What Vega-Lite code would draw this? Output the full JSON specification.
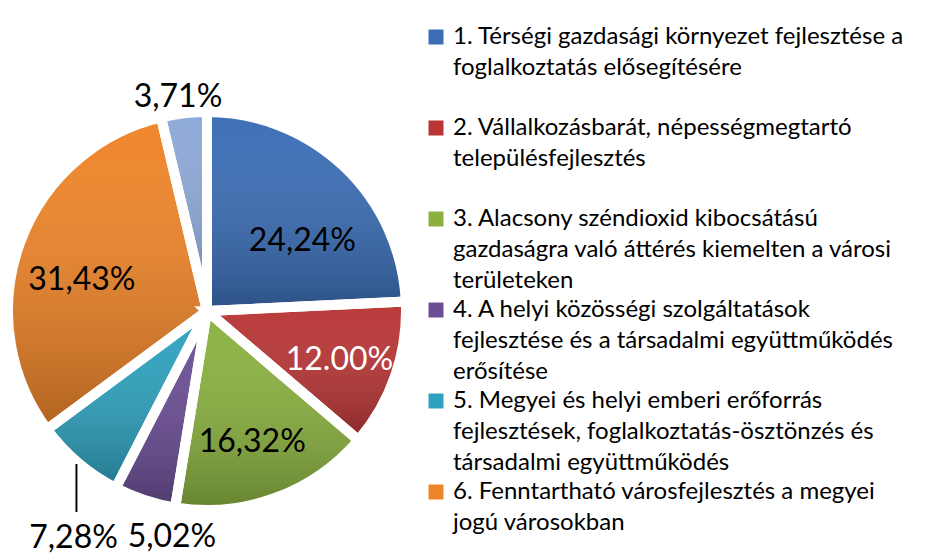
{
  "$schema": "https://vega.github.io/schema/vega-lite/v6.json",
  "width": 414,
  "height": 498,
  "autosize": {"type": "none"},
  "padding": {"left": 0, "top": 62, "right": 522, "bottom": 0},
  "background": "white",
  "config": {"view": {"stroke": null}, "font": "Lato"},
  "data": {
    "values": [
      {"idx": 1, "cat": "1. Térségi gazdasági környezet fejlesztése a\nfoglalkoztatás elősegítésére", "value": 24.24, "lbl": "24,24%"},
      {"idx": 2, "cat": "2. Vállalkozásbarát, népességmegtartó\ntelepülésfejlesztés", "value": 12.00, "lbl": "12.00%"},
      {"idx": 3, "cat": "3. Alacsony széndioxid kibocsátású\ngazdaságra való áttérés kiemelten a városi\nterületeken", "value": 16.32, "lbl": "16,32%"},
      {"idx": 4, "cat": "4. A helyi közösségi szolgáltatások\nfejlesztése és a társadalmi együttműködés\nerősítése", "value": 5.02, "lbl": "5,02%"},
      {"idx": 5, "cat": "5. Megyei és helyi emberi erőforrás\nfejlesztések, foglalkoztatás-ösztönzés  és\ntársadalmi együttműködés", "value": 7.28, "lbl": "7,28%"},
      {"idx": 6, "cat": "6. Fenntartható  városfejlesztés a megyei\njogú városokban", "value": 31.43, "lbl": "31,43%"},
      {"idx": 7, "cat": "7", "value": 3.71, "lbl": "3,71%"}
    ]
  },
  "encoding": {
    "theta": {"field": "value", "type": "quantitative", "stack": true},
    "order": {"field": "idx", "type": "quantitative"},
    "detail": {"field": "idx", "type": "nominal"}
  },
  "layer": [
    {
      "mark": {"type": "arc", "outerRadius": 199},
      "encoding": {
        "color": {
          "field": "cat",
          "type": "nominal",
          "scale": {
            "domain": [
              "1. Térségi gazdasági környezet fejlesztése a\nfoglalkoztatás elősegítésére",
              "2. Vállalkozásbarát, népességmegtartó\ntelepülésfejlesztés",
              "3. Alacsony széndioxid kibocsátású\ngazdaságra való áttérés kiemelten a városi\nterületeken",
              "4. A helyi közösségi szolgáltatások\nfejlesztése és a társadalmi együttműködés\nerősítése",
              "5. Megyei és helyi emberi erőforrás\nfejlesztések, foglalkoztatás-ösztönzés  és\ntársadalmi együttműködés",
              "6. Fenntartható  városfejlesztés a megyei\njogú városokban",
              "7"
            ],
            "range": ["#3a6db5", "#b93535", "#8ab13f", "#6c4e96", "#2ea2bf", "#ee8428", "#8ea9d8"]
          },
          "legend": {
            "orient": "none",
            "legendX": 424,
            "legendY": -37,
            "title": null,
            "values": [
              "1. Térségi gazdasági környezet fejlesztése a\nfoglalkoztatás elősegítésére",
              "2. Vállalkozásbarát, népességmegtartó\ntelepülésfejlesztés",
              "3. Alacsony széndioxid kibocsátású\ngazdaságra való áttérés kiemelten a városi\nterületeken",
              "4. A helyi közösségi szolgáltatások\nfejlesztése és a társadalmi együttműködés\nerősítése",
              "5. Megyei és helyi emberi erőforrás\nfejlesztések, foglalkoztatás-ösztönzés  és\ntársadalmi együttműködés",
              "6. Fenntartható  városfejlesztés a megyei\njogú városokban"
            ],
            "symbolType": "square",
            "symbolSize": 225,
            "symbolStrokeWidth": 0,
            "symbolOpacity": 1,
            "labelFont": "Lato",
            "labelFontSize": 24,
            "labelColor": "black",
            "labelLimit": 600,
            "labelOffset": 5,
            "rowPadding": 5,
            "padding": 0,
            "labelExpr": "split(length(split(datum.label, '\\n')) < 3 ? datum.label + '\\n ' : datum.label, '\\n')",
            "encode": {"labels": {"update": {"lineHeight": {"value": 31}}}}
          }
        }
      }
    },
    {
      "mark": {
        "type": "arc",
        "outerRadius": 199,
        "fill": {
          "gradient": "linear", "x1": 0, "y1": 0, "x2": 0, "y2": 1,
          "stops": [
            {"offset": 0, "color": "rgba(255,255,255,0.02)"},
            {"offset": 1, "color": "rgba(0,0,0,0.26)"}
          ]
        }
      }
    },
    {
      "mark": {"type": "arc", "outerRadius": 199, "filled": false, "stroke": "white", "strokeWidth": 10}
    },
    {
      "mark": {"type": "text", "radius": 118, "dx": 14, "dy": 15, "fontSize": 32, "font": "Lato", "color": "black"},
      "encoding": {"text": {"condition": {"test": "datum.idx === 1", "field": "lbl"}, "value": ""}}
    },
    {
      "mark": {"type": "text", "radius": 141, "dx": -1, "dy": 3, "fontSize": 32, "font": "Lato", "color": "white"},
      "encoding": {"text": {"condition": {"test": "datum.idx === 2", "field": "lbl"}, "value": ""}}
    },
    {
      "mark": {"type": "text", "radius": 140, "dx": -3, "dy": 0, "fontSize": 32, "font": "Lato", "color": "black"},
      "encoding": {"text": {"condition": {"test": "datum.idx === 3", "field": "lbl"}, "value": ""}}
    },
    {
      "mark": {"type": "text", "radius": 230, "dx": 37, "dy": 8, "fontSize": 32, "font": "Lato", "color": "black"},
      "encoding": {"text": {"condition": {"test": "datum.idx === 4", "field": "lbl"}, "value": ""}}
    },
    {
      "mark": {"type": "text", "radius": 263, "dx": 37, "dy": 27, "fontSize": 32, "font": "Lato", "color": "black"},
      "encoding": {"text": {"condition": {"test": "datum.idx === 5", "field": "lbl"}, "value": ""}}
    },
    {
      "mark": {"type": "text", "radius": 129, "dx": -4, "dy": 13, "fontSize": 32, "font": "Lato", "color": "black"},
      "encoding": {"text": {"condition": {"test": "datum.idx === 6", "field": "lbl"}, "value": ""}}
    },
    {
      "mark": {"type": "text", "radius": 215, "dx": -4, "dy": 0, "fontSize": 32, "font": "Lato", "color": "black"},
      "encoding": {"text": {"condition": {"test": "datum.idx === 7", "field": "lbl"}, "value": ""}}
    },
    {
      "mark": {"type": "text", "radius": 200, "dx": -1, "dy": 24, "fontSize": 52, "fontWeight": 300, "font": "Lato", "color": "black"},
      "encoding": {"text": {"condition": {"test": "datum.idx === 5", "value": "|"}, "value": ""}}
    }
  ]
}
